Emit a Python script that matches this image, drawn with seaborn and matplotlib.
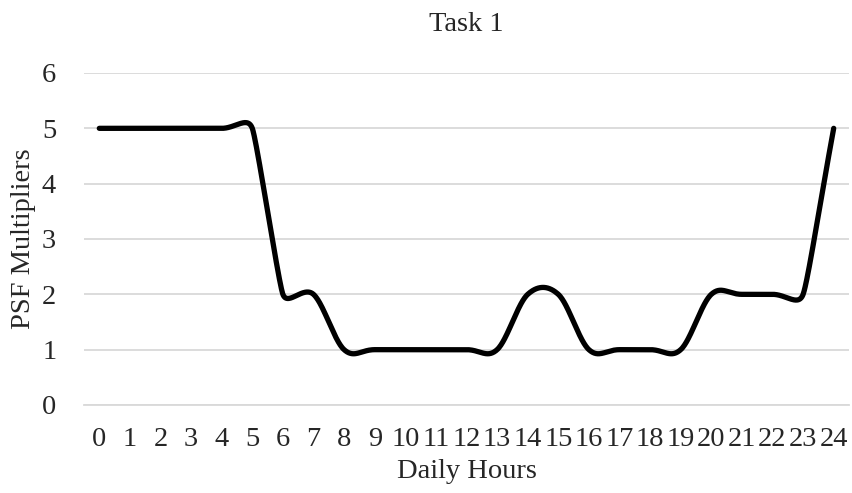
import numpy as np
import pandas as pd
import matplotlib
matplotlib.use("Agg")
import matplotlib.pyplot as plt
import seaborn as sns

hours = list(range(25))
hour_labels = [str(h) for h in hours]
psf = [5, 5, 5, 5, 5, 5, 2, 2, 1, 1, 1, 1, 1, 1, 2, 2, 1, 1, 1, 1, 2, 2, 2, 2, 5]

sns.set_theme(style="white")
plt.rcParams['font.family'] = ['Liberation Serif', 'DejaVu Serif']

fig = plt.figure(figsize=(8.53, 4.93), dpi=100)
ax = fig.add_axes([84 / 853, (493 - 405) / 493, (849 - 84) / 853, (405 - 73) / 493])
ax.set_xlim(-0.5, 24.5)
ax.set_ylim(0, 6)


def smooth(ax, xs, ys, tension=0.45, n=50):
    # Excel-like smoothed line: Bezier segments in screen space, tangent along the
    # neighbour chord, handle length limited by the shorter adjacent segment.
    pts = ax.transData.transform(np.column_stack([xs, ys]).astype(float))
    N = len(pts)
    seg = np.linalg.norm(np.diff(pts, axis=0), axis=1)

    def tangent(i):
        a = pts[max(i - 1, 0)]
        b = pts[min(i + 1, N - 1)]
        v = b - a
        nv = np.linalg.norm(v)
        return v / nv if nv > 0 else v

    def hlen(i):
        ds = []
        if i > 0:
            ds.append(seg[i - 1])
        if i < N - 1:
            ds.append(seg[i])
        return tension * min(ds)

    t = np.linspace(0, 1, n)[:, None]
    out = []
    for i in range(N - 1):
        p0, p3 = pts[i], pts[i + 1]
        c1 = p0 + tangent(i) * hlen(i)
        c2 = p3 - tangent(i + 1) * hlen(i + 1)
        b = (1 - t) ** 3 * p0 + 3 * (1 - t) ** 2 * t * c1 + 3 * (1 - t) * t ** 2 * c2 + t ** 3 * p3
        out.append(b if i == 0 else b[1:])
    out = np.vstack(out)
    return ax.transData.inverted().transform(out)


curve = smooth(ax, hours, psf)
df = pd.DataFrame({"x": curve[:, 0], "y": curve[:, 1]})

sns.lineplot(data=df, x="x", y="y", sort=False, color="black", linewidth=3.8,
             ax=ax, solid_capstyle="round", solid_joinstyle="round")

ax.set_xlim(-0.5, 24.5)
ax.set_ylim(0, 6)
ax.set_yticks(range(7))
ax.set_yticklabels([str(v) for v in range(7)], fontsize=20.5)
ax.set_xticks(hours)
ax.set_xticklabels(hour_labels, fontsize=20.5)
ax.set_xticks(np.arange(-0.5, 25, 1), minor=True)
ax.tick_params(axis="x", which="major", length=0, pad=16)
ax.tick_params(axis="x", which="minor", length=6, width=1.2, color="#d9d9d9", direction="out")
ax.tick_params(axis="y", length=0, pad=20)

ax.yaxis.grid(True, color="#d9d9d9", linewidth=1.3)
ax.set_axisbelow(True)
for s in ["top", "right", "left"]:
    ax.spines[s].set_visible(False)
ax.spines["bottom"].set_color("#d9d9d9")
ax.spines["bottom"].set_linewidth(1.3)

ax.set_xlabel("Daily Hours", fontsize=20.5, labelpad=5)
ax.set_ylabel("PSF Multipliers", fontsize=20.5, labelpad=4)
ax.set_title("Task 1", fontsize=20.5, pad=30)

fig.savefig("out.png", dpi=100)
